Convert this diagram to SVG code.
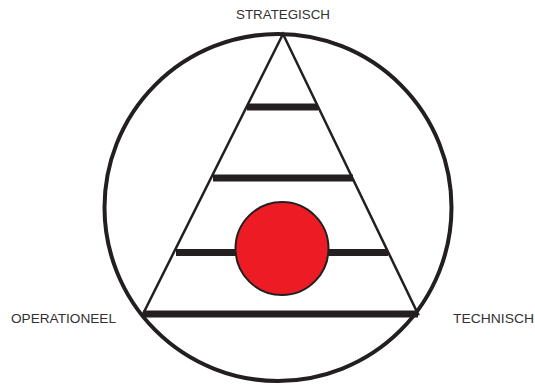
<svg xmlns="http://www.w3.org/2000/svg" width="535" height="385" viewBox="0 0 535 385">
<style>
.lbl{font-family:"Liberation Sans",Arial,sans-serif;font-size:13.5px;fill:#333132}
.ln{stroke:#231F20;fill:none}
.bar{stroke:#231F20;stroke-width:7}
</style>
<rect width="535" height="385" fill="#fff"/>
<g id="outer-circle"><circle class="ln" cx="278" cy="207.5" r="173.5" stroke-width="4"/></g>
<g id="pyramid"><polygon class="ln" points="283,34 143,314 418,314" stroke-width="2.5" stroke-linejoin="miter"/></g>
<g id="levels">
<line class="bar" x1="247" y1="107" x2="318" y2="107"/>
<line class="bar" x1="213" y1="178" x2="353" y2="178"/>
<line class="bar" x1="176" y1="252.5" x2="388" y2="252.5"/>
<line class="bar" x1="143" y1="314" x2="418" y2="314"/>
</g>
<g id="red-dot"><circle cx="282" cy="248.5" r="46.5" fill="#ED1C24" stroke="#231F20" stroke-width="2"/></g>
<g id="labels">
<text class="lbl" x="236" y="19" textLength="94" lengthAdjust="spacingAndGlyphs">STRATEGISCH</text>
<text class="lbl" x="11" y="322.7" textLength="105" lengthAdjust="spacingAndGlyphs">OPERATIONEEL</text>
<text class="lbl" x="453" y="322.7" textLength="81" lengthAdjust="spacingAndGlyphs">TECHNISCH</text>
</g>
</svg>
